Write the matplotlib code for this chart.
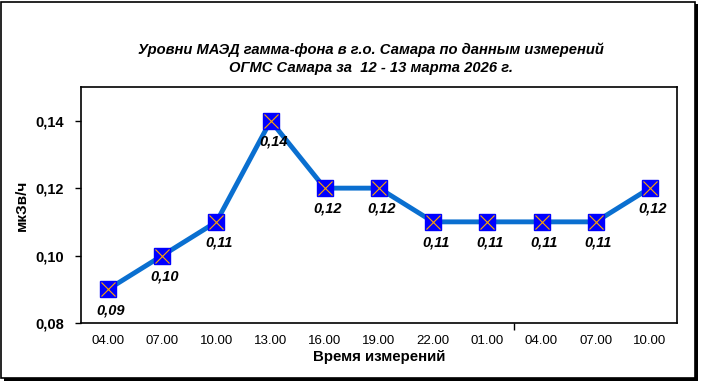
import matplotlib.pyplot as plt
from matplotlib.patches import Rectangle
import numpy as np

plt.rcParams['font.family'] = ['Liberation Sans', 'DejaVu Sans']

vremya = ['04.00', '07.00', '10.00', '13.00', '16.00', '19.00', '22.00', '01.00', '04.00', '07.00', '10.00']
maed = [0.09, 0.10, 0.11, 0.14, 0.12, 0.12, 0.11, 0.11, 0.11, 0.11, 0.12]
podpisi = ['0,09', '0,10', '0,11', '0,14', '0,12', '0,12', '0,11', '0,11', '0,11', '0,11', '0,12']
y_ticks = [0.08, 0.10, 0.12, 0.14]
y_tick_labels = ['0,08', '0,10', '0,12', '0,14']

fig = plt.figure(figsize=(7.01, 3.83), dpi=100)

# рамка с тенью
fig.patches.append(Rectangle((4 / 701, 1 - 381 / 383), 694 / 701, 377 / 383,
                             transform=fig.transFigure, facecolor='black', edgecolor='none', zorder=-3))
fig.patches.append(Rectangle((1 / 701, 1 - 378 / 383), 694 / 701, 376 / 383,
                             transform=fig.transFigure, facecolor='white', edgecolor='black', linewidth=1.2, zorder=-2))

ax = fig.add_axes([81 / 701, 1 - 323 / 383, 596 / 701, 236 / 383])
ax.set_facecolor('white')
x = np.arange(len(maed))
ax.plot(x, maed, color='#0A6FD0', linewidth=3.5, zorder=2)
ax.plot(x, maed, linestyle='none', marker='s', markersize=11, markerfacecolor='#0000FF',
        markeredgecolor='#0000FF', zorder=3)
ax.plot(x, maed, linestyle='none', marker='x', markersize=10, markeredgecolor='#FFA500',
        markeredgewidth=0.8, zorder=4)

for xi, yi, t in zip(x, maed, podpisi):
    ax.annotate(t, (xi, yi), xytext=(2, -15), textcoords='offset points', ha='center', va='center',
                fontsize=10.5, fontweight='bold', fontstyle='italic', zorder=5)

ax.set_xlim(-0.5, len(maed) - 0.5)
ax.set_ylim(0.08, 0.15)
ax.set_yticks(y_ticks)
ax.set_yticklabels(y_tick_labels, fontsize=10.5, fontweight='bold')
ax.set_xticks(x)
ax.set_xticklabels(vremya, fontsize=9.5)
ax.tick_params(axis='x', length=0, pad=9)
ax.set_xticks([7.5], minor=True)
ax.tick_params(axis='x', which='minor', length=5, width=1, direction='out')
ax.tick_params(axis='y', length=4, width=1, direction='out', pad=8)
for s in ax.spines.values():
    s.set_linewidth(1.2)

ax.set_xlabel('Время измерений', fontsize=10.8, fontweight='bold', labelpad=2)
ax.set_ylabel('мкЗв/ч', fontsize=11, fontweight='bold', labelpad=5)

fig.text(371 / 701, 1 - 50 / 383, 'Уровни МАЭД гамма-фона в г.о. Самара по данным измерений',
         ha='center', va='center', fontsize=10.6, fontweight='bold', fontstyle='italic')
fig.text(371 / 701, 1 - 68 / 383, 'ОГМС Самара за  12 - 13 марта 2026 г.',
         ha='center', va='center', fontsize=10.6, fontweight='bold', fontstyle='italic')

fig.savefig('out.png', dpi=100)
